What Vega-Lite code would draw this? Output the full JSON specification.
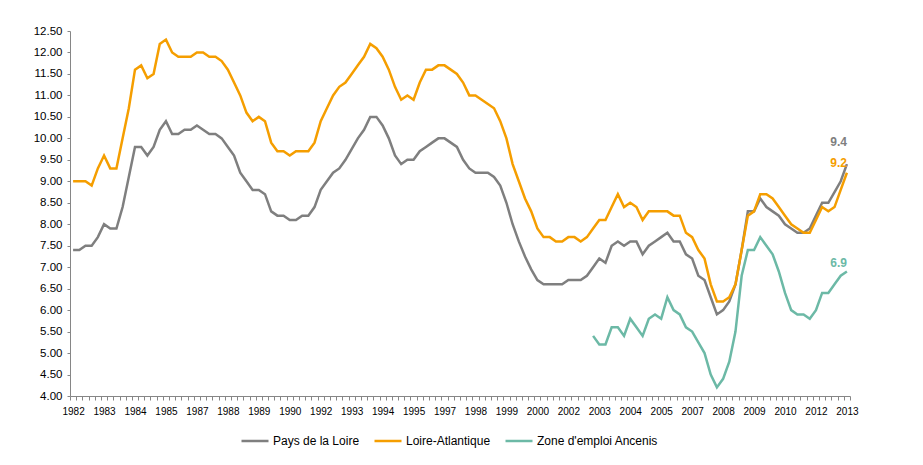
{
  "$schema": "https://vega.github.io/schema/vega-lite/v6.json",
  "width": 780,
  "height": 365,
  "autosize": {"type": "none"},
  "padding": {"left": 70, "top": 31, "right": 73, "bottom": 69},
  "background": "white",
  "config": {
    "font": "Liberation Sans",
    "view": {"stroke": null},
    "axis": {"grid": false, "domainColor": "#868686", "tickColor": "#868686", "labelColor": "#000000"},
    "axisY": {"tickSize": 3, "labelPadding": 5, "labelFontSize": 11.5, "labelOverlap": false, "labelFlush": false, "labelBound": false}
  },
  "data": {"values": [
    {"t":1982,"pdl":7.4,"la":9.0},
    {"t":1982.25,"pdl":7.4,"la":9.0},
    {"t":1982.5,"pdl":7.5,"la":9.0},
    {"t":1982.75,"pdl":7.5,"la":8.9},
    {"t":1983,"pdl":7.7,"la":9.3},
    {"t":1983.25,"pdl":8.0,"la":9.6},
    {"t":1983.5,"pdl":7.9,"la":9.3},
    {"t":1983.75,"pdl":7.9,"la":9.3},
    {"t":1984,"pdl":8.4,"la":10.0},
    {"t":1984.25,"pdl":9.1,"la":10.7},
    {"t":1984.5,"pdl":9.8,"la":11.6},
    {"t":1984.75,"pdl":9.8,"la":11.7},
    {"t":1985,"pdl":9.6,"la":11.4},
    {"t":1985.25,"pdl":9.8,"la":11.5},
    {"t":1985.5,"pdl":10.2,"la":12.2},
    {"t":1985.75,"pdl":10.4,"la":12.3},
    {"t":1986,"pdl":10.1,"la":12.0},
    {"t":1986.25,"pdl":10.1,"la":11.9},
    {"t":1986.5,"pdl":10.2,"la":11.9},
    {"t":1986.75,"pdl":10.2,"la":11.9},
    {"t":1987,"pdl":10.3,"la":12.0},
    {"t":1987.25,"pdl":10.2,"la":12.0},
    {"t":1987.5,"pdl":10.1,"la":11.9},
    {"t":1987.75,"pdl":10.1,"la":11.9},
    {"t":1988,"pdl":10.0,"la":11.8},
    {"t":1988.25,"pdl":9.8,"la":11.6},
    {"t":1988.5,"pdl":9.6,"la":11.3},
    {"t":1988.75,"pdl":9.2,"la":11.0},
    {"t":1989,"pdl":9.0,"la":10.6},
    {"t":1989.25,"pdl":8.8,"la":10.4},
    {"t":1989.5,"pdl":8.8,"la":10.5},
    {"t":1989.75,"pdl":8.7,"la":10.4},
    {"t":1990,"pdl":8.3,"la":9.9},
    {"t":1990.25,"pdl":8.2,"la":9.7},
    {"t":1990.5,"pdl":8.2,"la":9.7},
    {"t":1990.75,"pdl":8.1,"la":9.6},
    {"t":1991,"pdl":8.1,"la":9.7},
    {"t":1991.25,"pdl":8.2,"la":9.7},
    {"t":1991.5,"pdl":8.2,"la":9.7},
    {"t":1991.75,"pdl":8.4,"la":9.9},
    {"t":1992,"pdl":8.8,"la":10.4},
    {"t":1992.25,"pdl":9.0,"la":10.7},
    {"t":1992.5,"pdl":9.2,"la":11.0},
    {"t":1992.75,"pdl":9.3,"la":11.2},
    {"t":1993,"pdl":9.5,"la":11.3},
    {"t":1993.25,"pdl":9.75,"la":11.5},
    {"t":1993.5,"pdl":10.0,"la":11.7},
    {"t":1993.75,"pdl":10.2,"la":11.9},
    {"t":1994,"pdl":10.5,"la":12.2},
    {"t":1994.25,"pdl":10.5,"la":12.1},
    {"t":1994.5,"pdl":10.3,"la":11.9},
    {"t":1994.75,"pdl":10.0,"la":11.6},
    {"t":1995,"pdl":9.6,"la":11.2},
    {"t":1995.25,"pdl":9.4,"la":10.9},
    {"t":1995.5,"pdl":9.5,"la":11.0},
    {"t":1995.75,"pdl":9.5,"la":10.9},
    {"t":1996,"pdl":9.7,"la":11.3},
    {"t":1996.25,"pdl":9.8,"la":11.6},
    {"t":1996.5,"pdl":9.9,"la":11.6},
    {"t":1996.75,"pdl":10.0,"la":11.7},
    {"t":1997,"pdl":10.0,"la":11.7},
    {"t":1997.25,"pdl":9.9,"la":11.6},
    {"t":1997.5,"pdl":9.8,"la":11.5},
    {"t":1997.75,"pdl":9.5,"la":11.3},
    {"t":1998,"pdl":9.3,"la":11.0},
    {"t":1998.25,"pdl":9.2,"la":11.0},
    {"t":1998.5,"pdl":9.2,"la":10.9},
    {"t":1998.75,"pdl":9.2,"la":10.8},
    {"t":1999,"pdl":9.1,"la":10.7},
    {"t":1999.25,"pdl":8.9,"la":10.4},
    {"t":1999.5,"pdl":8.5,"la":10.0},
    {"t":1999.75,"pdl":8.0,"la":9.4},
    {"t":2000,"pdl":7.6,"la":9.0},
    {"t":2000.25,"pdl":7.25,"la":8.6},
    {"t":2000.5,"pdl":6.95,"la":8.3},
    {"t":2000.75,"pdl":6.7,"la":7.9},
    {"t":2001,"pdl":6.6,"la":7.7},
    {"t":2001.25,"pdl":6.6,"la":7.7},
    {"t":2001.5,"pdl":6.6,"la":7.6},
    {"t":2001.75,"pdl":6.6,"la":7.6},
    {"t":2002,"pdl":6.7,"la":7.7},
    {"t":2002.25,"pdl":6.7,"la":7.7},
    {"t":2002.5,"pdl":6.7,"la":7.6},
    {"t":2002.75,"pdl":6.8,"la":7.7},
    {"t":2003,"pdl":7.0,"la":7.9,"zea":5.4},
    {"t":2003.25,"pdl":7.2,"la":8.1,"zea":5.2},
    {"t":2003.5,"pdl":7.1,"la":8.1,"zea":5.2},
    {"t":2003.75,"pdl":7.5,"la":8.4,"zea":5.6},
    {"t":2004,"pdl":7.6,"la":8.7,"zea":5.6},
    {"t":2004.25,"pdl":7.5,"la":8.4,"zea":5.4},
    {"t":2004.5,"pdl":7.6,"la":8.5,"zea":5.8},
    {"t":2004.75,"pdl":7.6,"la":8.4,"zea":5.6},
    {"t":2005,"pdl":7.3,"la":8.1,"zea":5.4},
    {"t":2005.25,"pdl":7.5,"la":8.3,"zea":5.8},
    {"t":2005.5,"pdl":7.6,"la":8.3,"zea":5.9},
    {"t":2005.75,"pdl":7.7,"la":8.3,"zea":5.8},
    {"t":2006,"pdl":7.8,"la":8.3,"zea":6.3},
    {"t":2006.25,"pdl":7.6,"la":8.2,"zea":6.0},
    {"t":2006.5,"pdl":7.6,"la":8.2,"zea":5.9},
    {"t":2006.75,"pdl":7.3,"la":7.8,"zea":5.6},
    {"t":2007,"pdl":7.2,"la":7.7,"zea":5.5},
    {"t":2007.25,"pdl":6.8,"la":7.4,"zea":5.25},
    {"t":2007.5,"pdl":6.7,"la":7.2,"zea":5.0},
    {"t":2007.75,"pdl":6.3,"la":6.6,"zea":4.5},
    {"t":2008,"pdl":5.9,"la":6.2,"zea":4.2},
    {"t":2008.25,"pdl":6.0,"la":6.2,"zea":4.4},
    {"t":2008.5,"pdl":6.2,"la":6.3,"zea":4.8},
    {"t":2008.75,"pdl":6.6,"la":6.6,"zea":5.5},
    {"t":2009,"pdl":7.4,"la":7.4,"zea":6.8},
    {"t":2009.25,"pdl":8.3,"la":8.2,"zea":7.4},
    {"t":2009.5,"pdl":8.3,"la":8.3,"zea":7.4},
    {"t":2009.75,"pdl":8.6,"la":8.7,"zea":7.7},
    {"t":2010,"pdl":8.4,"la":8.7,"zea":7.5},
    {"t":2010.25,"pdl":8.3,"la":8.6,"zea":7.3},
    {"t":2010.5,"pdl":8.2,"la":8.4,"zea":6.9},
    {"t":2010.75,"pdl":8.0,"la":8.2,"zea":6.4},
    {"t":2011,"pdl":7.9,"la":8.0,"zea":6.0},
    {"t":2011.25,"pdl":7.8,"la":7.9,"zea":5.9},
    {"t":2011.5,"pdl":7.8,"la":7.8,"zea":5.9},
    {"t":2011.75,"pdl":7.9,"la":7.8,"zea":5.8},
    {"t":2012,"pdl":8.2,"la":8.1,"zea":6.0},
    {"t":2012.25,"pdl":8.5,"la":8.4,"zea":6.4},
    {"t":2012.5,"pdl":8.5,"la":8.3,"zea":6.4},
    {"t":2012.75,"pdl":8.75,"la":8.4,"zea":6.6},
    {"t":2013,"pdl":9.0,"la":8.8,"zea":6.8},
    {"t":2013.25,"pdl":9.4,"la":9.2,"zea":6.9}
  ]},
  "encoding": {
    "x": {
      "field": "t",
      "type": "quantitative",
      "title": null,
      "scale": {"domain": [1981.875, 2013.375], "nice": false, "zero": false},
      "axis": {
        "values": [1981.875,
          1982.125,1982.375,1982.625,1982.875,1983.125,1983.375,1983.625,1983.875,
          1984.125,1984.375,1984.625,1984.875,1985.125,1985.375,1985.625,1985.875,
          1986.125,1986.375,1986.625,1986.875,1987.125,1987.375,1987.625,1987.875,
          1988.125,1988.375,1988.625,1988.875,1989.125,1989.375,1989.625,1989.875,
          1990.125,1990.375,1990.625,1990.875,1991.125,1991.375,1991.625,1991.875,
          1992.125,1992.375,1992.625,1992.875,1993.125,1993.375,1993.625,1993.875,
          1994.125,1994.375,1994.625,1994.875,1995.125,1995.375,1995.625,1995.875,
          1996.125,1996.375,1996.625,1996.875,1997.125,1997.375,1997.625,1997.875,
          1998.125,1998.375,1998.625,1998.875,1999.125,1999.375,1999.625,1999.875,
          2000.125,2000.375,2000.625,2000.875,2001.125,2001.375,2001.625,2001.875,
          2002.125,2002.375,2002.625,2002.875,2003.125,2003.375,2003.625,2003.875,
          2004.125,2004.375,2004.625,2004.875,2005.125,2005.375,2005.625,2005.875,
          2006.125,2006.375,2006.625,2006.875,2007.125,2007.375,2007.625,2007.875,
          2008.125,2008.375,2008.625,2008.875,2009.125,2009.375,2009.625,2009.875,
          2010.125,2010.375,2010.625,2010.875,2011.125,2011.375,2011.625,2011.875,
          2012.125,2012.375,2012.625,2012.875,2013.125,2013.375],
        "labelExpr": "round((datum.value - 1981.875) * 4) % 5 == 0 ? '' + floor(datum.value + 0.125) : ''",
        "labelOffset": 3.1,
        "labelFlush": false,
        "labelOverlap": false,
        "labelBound": false,
        "labelFont": "Liberation Sans",
        "labelFontSize": 10,
        "tickSize": 4,
        "labelPadding": 6
      }
    }
  },
  "layer": [
    {
      "mark": {"type": "line", "strokeWidth": 2.5},
      "encoding": {
        "y": {
          "field": "pdl",
          "type": "quantitative",
          "title": null,
          "scale": {"domain": [4, 12.5], "nice": false, "zero": false},
          "axis": {"values": [4, 4.5, 5, 5.5, 6, 6.5, 7, 7.5, 8, 8.5, 9, 9.5, 10, 10.5, 11, 11.5, 12, 12.5], "format": ".2f", "labelOverlap": false}
        },
        "color": {
          "datum": "Pays de la Loire",
          "type": "nominal",
          "scale": {
            "domain": ["Pays de la Loire", "Loire-Atlantique", "Zone d'emploi Ancenis"],
            "range": ["#7F7F7F", "#F59E00", "#6CB9A6"]
          },
          "legend": {
            "orient": "none",
            "legendX": 170,
            "legendY": 395,
            "direction": "horizontal",
            "title": null,
            "symbolType": "stroke",
            "symbolStrokeWidth": 2.5,
            "symbolSize": 729,
            "labelFontSize": 12,
            "labelFont": "Liberation Sans",
            "labelColor": "#000000",
            "labelOffset": 3,
            "columnPadding": 9,
            "padding": 0
          }
        }
      }
    },
    {
      "mark": {"type": "line", "strokeWidth": 2.5},
      "encoding": {
        "y": {"field": "la", "type": "quantitative", "title": null,
          "axis": {"values": [4, 4.5, 5, 5.5, 6, 6.5, 7, 7.5, 8, 8.5, 9, 9.5, 10, 10.5, 11, 11.5, 12, 12.5], "format": ".2f", "labelOverlap": false}},
        "color": {"datum": "Loire-Atlantique", "type": "nominal"}
      }
    },
    {
      "mark": {"type": "line", "strokeWidth": 2.5},
      "encoding": {
        "y": {"field": "zea", "type": "quantitative", "title": null,
          "axis": {"values": [4, 4.5, 5, 5.5, 6, 6.5, 7, 7.5, 8, 8.5, 9, 9.5, 10, 10.5, 11, 11.5, 12, 12.5], "format": ".2f", "labelOverlap": false}},
        "color": {"datum": "Zone d'emploi Ancenis", "type": "nominal"}
      }
    },
    {
      "transform": [{"filter": {"field": "t", "equal": 2013.25}}],
      "mark": {"type": "text", "align": "right", "baseline": "middle", "dy": -22, "fontWeight": "bold", "fontSize": 12, "font": "Liberation Sans", "color": "#7F7F7F"},
      "encoding": {
        "y": {"field": "pdl", "type": "quantitative", "title": null,
          "axis": {"values": [4, 4.5, 5, 5.5, 6, 6.5, 7, 7.5, 8, 8.5, 9, 9.5, 10, 10.5, 11, 11.5, 12, 12.5], "format": ".2f", "labelOverlap": false}},
        "text": {"field": "pdl", "type": "quantitative", "format": ".1f"}
      }
    },
    {
      "transform": [{"filter": {"field": "t", "equal": 2013.25}}],
      "mark": {"type": "text", "align": "right", "baseline": "middle", "dy": -10, "fontWeight": "bold", "fontSize": 12, "font": "Liberation Sans", "color": "#F59E00"},
      "encoding": {
        "y": {"field": "la", "type": "quantitative", "title": null,
          "axis": {"values": [4, 4.5, 5, 5.5, 6, 6.5, 7, 7.5, 8, 8.5, 9, 9.5, 10, 10.5, 11, 11.5, 12, 12.5], "format": ".2f", "labelOverlap": false}},
        "text": {"field": "la", "type": "quantitative", "format": ".1f"}
      }
    },
    {
      "transform": [{"filter": {"field": "t", "equal": 2013.25}}],
      "mark": {"type": "text", "align": "right", "baseline": "middle", "dy": -8, "fontWeight": "bold", "fontSize": 12, "font": "Liberation Sans", "color": "#6CB9A6"},
      "encoding": {
        "y": {"field": "zea", "type": "quantitative", "title": null,
          "axis": {"values": [4, 4.5, 5, 5.5, 6, 6.5, 7, 7.5, 8, 8.5, 9, 9.5, 10, 10.5, 11, 11.5, 12, 12.5], "format": ".2f", "labelOverlap": false}},
        "text": {"field": "zea", "type": "quantitative", "format": ".1f"}
      }
    }
  ]
}
